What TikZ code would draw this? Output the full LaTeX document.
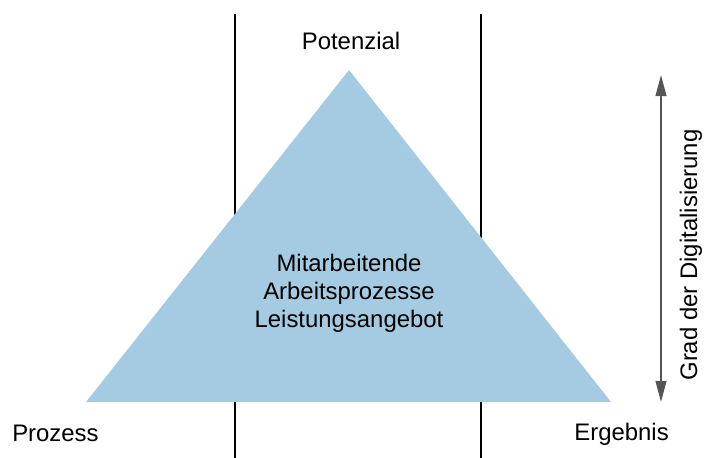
\documentclass[tikz,border=0pt]{standalone}
\usepackage{fontspec}
\setmainfont{Liberation Sans}
\usetikzlibrary{arrows.meta}
\definecolor{triblue}{RGB}{165,203,227}
\definecolor{arrowgray}{RGB}{85,85,85}
\tikzset{
	x=0.025cm, y=-0.025cm,
	every node/.style={font=\fontsize{17}{19.9}\selectfont, inner sep=0pt},
	divider/.style={draw, line width=1pt, black},
	digiarrow/.style={draw=arrowgray, line width=1.4pt,
		{Triangle[length=0.53cm, width=0.27cm]}-{Triangle[length=0.53cm, width=0.27cm]}}
}

\begin{document}
\begin{tikzpicture}
\useasboundingbox (0,0) rectangle (710,458);

% Trennlinien
\coordinate (linksOben) at (235,14); \coordinate (linksUnten) at (235,458);
\coordinate (rechtsOben) at (481,14); \coordinate (rechtsUnten) at (481,458);
\draw[divider] (linksOben) -- (linksUnten);
\draw[divider] (rechtsOben) -- (rechtsUnten);

% Dreieck
\coordinate (spitze) at (349,70);
\coordinate (basisL) at (86,402);
\coordinate (basisR) at (611,402);
\fill[triblue] (spitze) -- (basisL) -- (basisR) -- cycle;

\node[align=center] (inhalt) at (349,293) {Mitarbeitende\\Arbeitsprozesse\\Leistungsangebot};

\node[anchor=base] (potenzial) at (351,50) {Potenzial};
\node[anchor=base west] (prozess) at (12,441) {Prozess};
\node[anchor=base east] (ergebnis) at (669,440) {Ergebnis};

% Pfeil
\coordinate (oben) at (661,75);
\coordinate (unten) at (661,402);
\draw[digiarrow] (oben) -- (unten);
\node[rotate=90] (grad) at (691,255) {Grad der Digitalisierung};
\end{tikzpicture}
\end{document}
